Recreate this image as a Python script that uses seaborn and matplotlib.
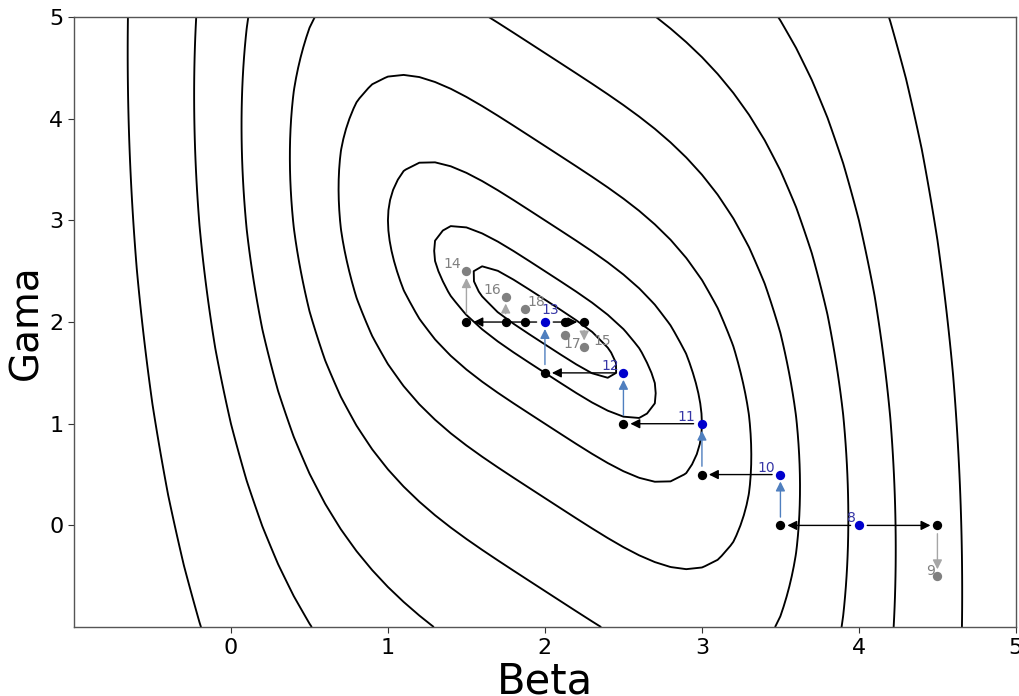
import numpy as np
import matplotlib
matplotlib.use("Agg")
import matplotlib.pyplot as plt
import seaborn as sns

# Objective surface: f(beta, gama) = (beta + gama - 4)^2 + (beta - 2)^4
beta_grid = np.arange(-1.0, 5.0001, 0.1)
gama_grid = np.arange(-1.0, 5.0001, 0.1)
levels = [0.05, 0.25, 1, 3, 7, 14, 25, 50]

# accepted iterates (numbered, blue)
acc_ids = [8, 10, 11, 12, 13]
acc_beta = [4.0, 3.5, 3.0, 2.5, 2.0]
acc_gama = [0.0, 0.5, 1.0, 1.5, 2.0]

# rejected trial points (numbered, gray)
rej_ids = [9, 14, 15, 16, 17, 18]
rej_beta = [4.5, 1.5, 2.25, 1.75, 2.125, 1.875]
rej_gama = [-0.5, 2.5, 1.75, 2.25, 1.875, 2.125]

# coordinate probes along beta (black)
probe_beta = [3.5, 4.5, 3.0, 2.5, 2.0, 1.5, 1.75, 1.875, 2.125, 2.25]
probe_gama = [0.0, 0.0, 0.5, 1.0, 1.5, 2.0, 2.0, 2.0, 2.0, 2.0]

# search moves: start -> end, and whether the move was a beta step,
# an accepted gama step or a rejected gama step
move_b0 = [4.0, 4.0, 4.5, 3.5, 3.5, 3.0, 3.0, 2.5, 2.5, 2.0, 2.0, 2.0, 1.5, 2.25, 1.75]
move_g0 = [0.0, 0.0, 0.0, 0.0, 0.5, 0.5, 1.0, 1.0, 1.5, 1.5, 2.0, 2.0, 2.0, 2.0, 2.0]
move_b1 = [3.5, 4.5, 4.5, 3.5, 3.0, 3.0, 2.5, 2.5, 2.0, 2.0, 1.5, 2.25, 1.5, 2.25, 1.75]
move_g1 = [0.0, 0.0, -0.5, 0.5, 0.5, 1.0, 1.0, 1.5, 1.5, 2.0, 2.0, 2.0, 2.5, 1.75, 2.25]
move_kind = ["beta", "beta", "reject", "accept", "beta", "accept", "beta", "accept",
             "beta", "accept", "beta", "beta", "reject", "reject", "reject"]

# label placement (pixel offsets and alignment) for each numbered point
label_pos = {
    8: (-3, 0, "right", "bottom"),
    9: (-2, -2, "right", "bottom"),
    10: (-5, 0, "right", "bottom"),
    11: (-7, 0, "right", "bottom"),
    12: (-4, 0, "right", "bottom"),
    13: (-3, 5, "left", "bottom"),
    14: (-5, 0, "right", "bottom"),
    15: (9, -1, "left", "bottom"),
    16: (-4, 0, "right", "bottom"),
    17: (-1, -2, "left", "top"),
    18: (2, 0, "left", "bottom"),
}

sns.set_theme(style="ticks")
plt.rcParams["font.family"] = ["DejaVu Sans"]

fig = plt.figure(figsize=(10.2, 6.96), dpi=100)
ax = fig.add_axes([0.0725, 0.099, 0.9235, 0.8766])

B, G = np.meshgrid(beta_grid, gama_grid)
Z = (B + G - 4.0) ** 2 + (B - 2.0) ** 4
ax.contour(B, G, Z, levels=levels, colors="black", linewidths=1.35, zorder=1)

arrow_colors = {"beta": "black", "accept": "#4f7fbf", "reject": "#a6a6a6"}
for b0, g0, b1, g1, kind in zip(move_b0, move_g0, move_b1, move_g1, move_kind):
    ax.annotate("", xy=(b1, g1), xytext=(b0, g0),
                arrowprops=dict(arrowstyle="-|>", color=arrow_colors[kind],
                                lw=1.0, shrinkA=6, shrinkB=5, mutation_scale=14),
                zorder=2)

sns.scatterplot(x=probe_beta, y=probe_gama, color="black", s=45, linewidth=0,
                ax=ax, zorder=3)
sns.scatterplot(x=rej_beta, y=rej_gama, color="gray", s=45, linewidth=0,
                ax=ax, zorder=3)
sns.scatterplot(x=acc_beta, y=acc_gama, color="mediumblue", s=45, linewidth=0,
                ax=ax, zorder=3)

for ids, bs, gs, col in [(acc_ids, acc_beta, acc_gama, "#3636a6"),
                         (rej_ids, rej_beta, rej_gama, "gray")]:
    for i, b, g in zip(ids, bs, gs):
        dx, dy, ha, va = label_pos[i]
        ax.annotate(str(i), (b, g), xytext=(dx, dy), textcoords="offset pixels",
                    ha=ha, va=va, color=col, fontsize=10, zorder=4)

ax.set_xlim(-1, 5)
ax.set_ylim(-1, 5)
ax.set_xticks([0, 1, 2, 3, 4, 5])
ax.set_yticks([0, 1, 2, 3, 4, 5])
ax.tick_params(labelsize=16, length=4, width=0.8, colors="#333333", labelcolor="black")
for sp in ax.spines.values():
    sp.set_visible(True)
    sp.set_color("#555555")
    sp.set_linewidth(1.0)
ax.set_xlabel("Beta", fontsize=30, labelpad=2, color="black")
ax.set_ylabel("Gama", fontsize=28, labelpad=3, color="black")

fig.savefig("out.png", dpi=100)
